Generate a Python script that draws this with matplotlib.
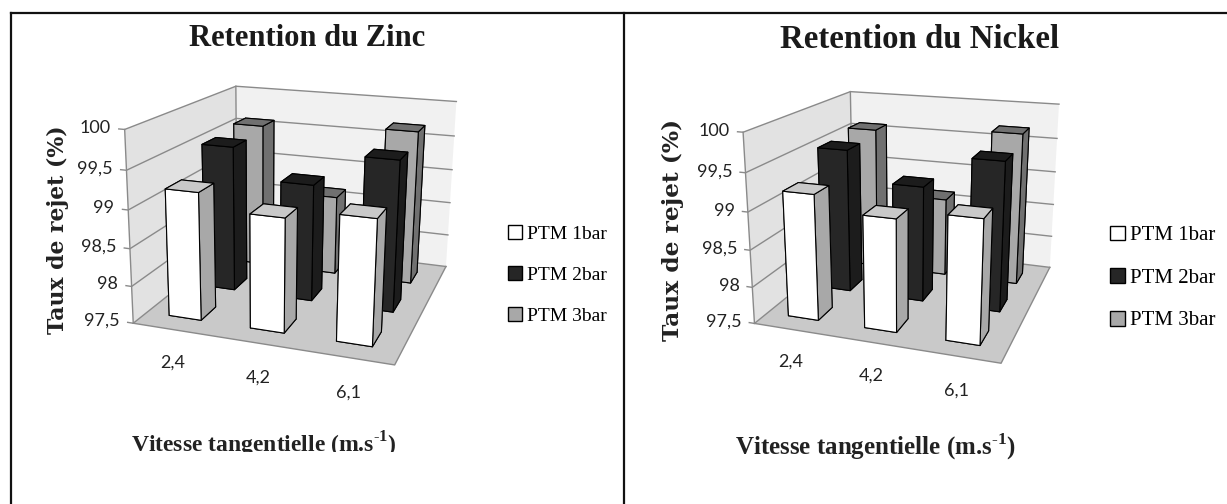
#!/usr/bin/env python3
import matplotlib
matplotlib.use("Agg")
import matplotlib.pyplot as plt
from matplotlib.lines import Line2D
from matplotlib.patches import Patch
from matplotlib.transforms import Bbox
from mpl_toolkits.mplot3d import proj3d
from mpl_toolkits.mplot3d.art3d import Poly3DCollection

W, H = 1227, 504
plt.rcParams['mathtext.fontset'] = 'custom'
plt.rcParams['mathtext.rm'] = 'Liberation Serif'
plt.rcParams['mathtext.bf'] = 'Liberation Serif:bold'

#-----Donnees-------
vitesses = ['2,4', '4,2', '6,1']
series = ['PTM 1bar', 'PTM 2bar', 'PTM 3bar']
z_ticks = [97.5, 98, 98.5, 99, 99.5, 100]
z_labels = ['97,5', '98', '98,5', '99', '99,5', '100']

zinc_1bar = [99.2, 99.0, 99.12]
zinc_2bar = [99.53, 99.12, 99.56]
zinc_3bar = [99.6, 98.65, 99.7]
nickel_1bar = [99.2, 99.0, 99.12]
nickel_2bar = [99.53, 99.12, 99.56]
nickel_3bar = [99.6, 98.65, 99.7]

#face avant, dessus, cote
couleurs = [('#ffffff', '#c9c9c9', '#a8a8a8'),
            ('#262626', '#1c1c1c', '#1c1c1c'),
            ('#a8a8a8', '#707070', '#707070')]
fond = '#e2e2e2'
mur = '#f1f1f1'
sol = '#c9c9c9'
grille = '#8a8a8a'
police_ticks = 'Lato'


def quad(ax, pts, color, z):
    p = Poly3DCollection([pts], facecolors=color, edgecolors='none', zorder=z)
    ax.add_collection3d(p)


def label3d(ax, x, y, z, txt, ha):
    #texte 2D place au point projete
    vx, vy, _ = proj3d.proj_transform(x, y, z, ax.get_proj())
    ax.text2D(vx, vy, txt, transform=ax.transData, ha=ha, va='center', fontsize=13,
              family=police_ticks, color='#222222')


def chart(rect, vue, aspect, values, title, opts):
    x, y, s = rect
    ax = fig.add_axes([x / W, 1 - (y + s) / H, s / W, s / H], projection='3d', computed_zorder=False)
    ax.set_proj_type('persp', focal_length=vue[3])
    ax.view_init(elev=vue[0], azim=vue[1], roll=vue[2])
    ax.set_box_aspect(aspect, zoom=1)
    ax.set_xlim(0, 3)
    ax.set_ylim(0, 3)
    ax.set_zlim(97.5, 100)
    ax.set_xticks([])
    ax.set_yticks([])
    ax.set_zticks([])
    ax.set_axis_off()

    #murs et sol
    quad(ax, [(0, 0, 97.5), (3, 0, 97.5), (3, 3, 97.5), (0, 3, 97.5)], sol, 1)
    quad(ax, [(0, 0, 97.5), (0, 3, 97.5), (0, 3, 100), (0, 0, 100)], fond, 1)
    quad(ax, [(0, 3, 97.5), (3, 3, 97.5), (3, 3, 100), (0, 3, 100)], mur, 1)
    for z, lab in zip(z_ticks, z_labels):
        ax.plot([-0.07, 0, 0, 3], [0, 0, 3, 3], [z, z, z, z], color=grille, lw=1, zorder=2)
        label3d(ax, -0.17, 0, z, lab, 'right')
    ax.plot([0, 0], [3, 3], [97.5, 100], color=grille, lw=1, zorder=2)
    ax.plot([0, 0], [0, 0], [97.5, 100], color=grille, lw=1, zorder=2)
    ax.plot([0, 3, 3], [0, 0, 3], [97.5, 97.5, 97.5], color=grille, lw=1, zorder=2)

    for i, lab in enumerate(vitesses):
        label3d(ax, i * 0.9275 + 0.855, -0.72, 97.5, lab, 'center')

    #barres, du fond vers l'avant
    for k in [2, 1, 0]:
        face, top, side = couleurs[k]
        for i in range(3):
            ax.bar3d(i + 0.28, 0.33 + 0.965 * k, 97.5, 0.4, 0.4, values[k][i] - 97.5,
                     color=[top, top, face, face, side, side], shade=False,
                     edgecolor='black', linewidth=0.8, zorder=10 + 3 * (2 - k) + i)

    tx, ty, ts = opts['title']
    fig.text(tx / W, 1 - ty / H, title, ha='center', va='center',
             fontsize=ts, family='Liberation Serif', fontweight='bold', color='#1a1a1a')
    tx, ty, ts = opts['ylabel']
    fig.text(tx / W, 1 - ty / H, 'Taux de rejet (%)', rotation=90,
             ha='center', va='center', fontsize=ts, family='DejaVu Serif',
             fontweight='bold', color='#222222')
    tx, ty, ts = opts['xlabel']
    t = fig.text(tx / W, 1 - ty / H, r'Vitesse tangentielle (m.s$^{\text{-}\mathbf{1}}$)',
                 ha='center', va='center', fontsize=ts, family='Liberation Serif',
                 fontweight='bold', color='#222222')
    if 'coupe' in opts:
        t.set_clip_box(Bbox([[0, H - opts['coupe']], [W, H]]))
        t.set_clip_on(True)

    tx, ty, ts, sp = opts['legend']
    handles = [Patch(facecolor=couleurs[k][0], edgecolor='black', lw=1) for k in range(3)]
    fig.legend(handles, series, loc='center left', frameon=False,
               bbox_to_anchor=(tx / W, 1 - ty / H),
               prop={'family': 'Liberation Serif', 'size': ts},
               handlelength=0.72, handleheight=0.72, handletextpad=0.25,
               labelspacing=sp, borderpad=0, borderaxespad=0)


fig = plt.figure(figsize=(W / 100, H / 100), dpi=100, facecolor='white')

chart((102.6, 15.1, 392.4), (16.779, -71.869, -0.833, 0.426), (1, 1.016, 0.739),
      [zinc_1bar, zinc_2bar, zinc_3bar], 'Retention du Zinc',
      {'title': (307, 38, 22), 'ylabel': (58, 230, 15.8), 'xlabel': (264, 445, 17), 'coupe': 452,
       'legend': (508, 275, 14, 1.19)})
chart((723.3, 26.4, 373.1), (17.188, -71.15, -0.226, 0.405), (1, 1.0, 0.772),
      [nickel_1bar, nickel_2bar, nickel_3bar], 'Retention du Nickel',
      {'title': (920, 40, 23.6), 'ylabel': (673, 230, 16.8), 'xlabel': (875.5, 447, 18),
       'legend': (1110, 278, 15, 1.1)})

#cadre du tableau
for xs, ys in [([11, W], [13, 13]), ([11, 11], [13, H]), ([624, 624], [13, H])]:
    fig.add_artist(Line2D([v / W for v in xs], [1 - v / H for v in ys], color='#111111', lw=1.6))

fig.savefig('out.png', dpi=100)
